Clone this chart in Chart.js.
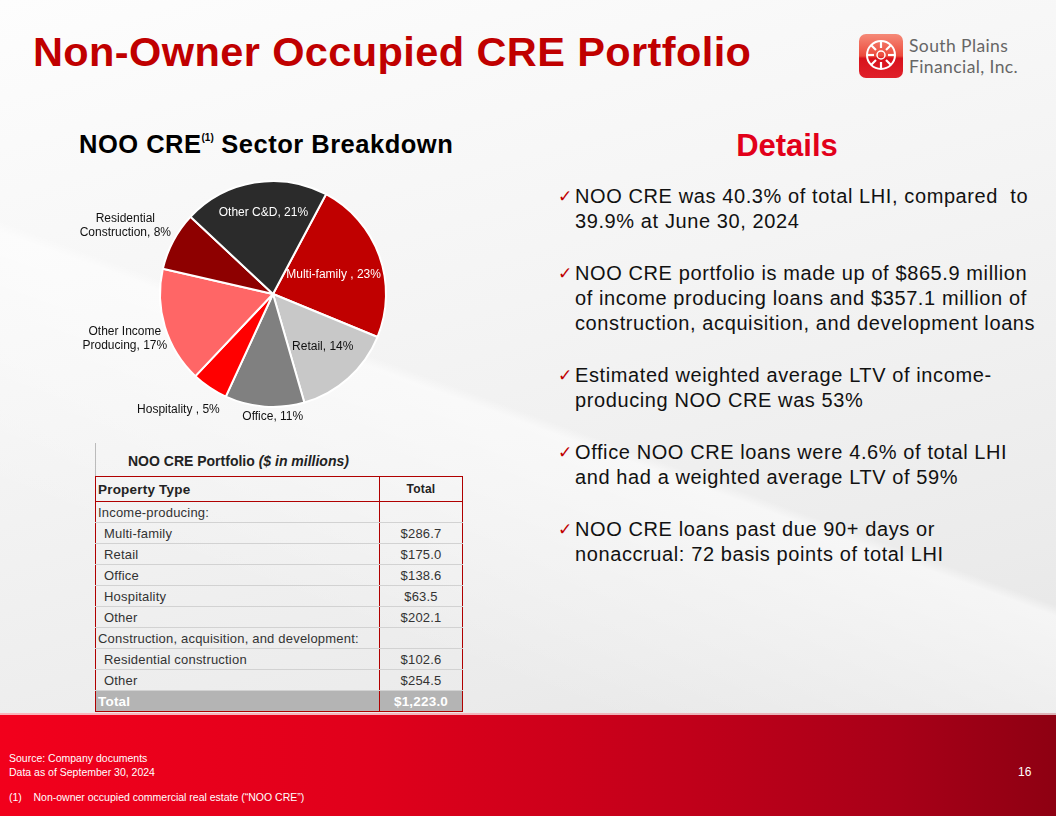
<!DOCTYPE html>
<html lang="en">
<head>
    <meta charset="UTF-8">
    <title>Non-Owner Occupied CRE Portfolio</title>
    <style>
        html, body { margin: 0; padding: 0; }
        body { width: 1056px; height: 816px; position: relative; overflow: hidden;
               font-family: Arial, "Liberation Sans", sans-serif;
               background: linear-gradient(165deg, #fdfdfd 0%, #f4f4f4 40%, #ebebeb 75%, #e2e2e2 100%); }
        .shade { position: absolute; left: 0; top: 0; width: 1056px; height: 716px;
                 background: linear-gradient(200deg, rgba(255,255,255,0.0) 55%, rgba(255,255,255,0.55) 56%, rgba(255,255,255,0) 80%); }
        h1 { position: absolute; left: 33px; top: 28px; margin: 0; font-size: 41.5px; font-weight: bold; color: #C00000; letter-spacing: 0.4px; }
        .subtitle { position: absolute; left: 79px; top: 130px; font-size: 25.5px; font-weight: bold; color: #000; letter-spacing: 0.5px; }
        .subtitle sup { font-size: 10px; position: relative; top: -3px; letter-spacing: 0; }
        .details-title { position: absolute; left: 687px; width: 200px; top: 128px; text-align: center;
                         font-size: 31px; font-weight: bold; color: #E2001A; }
        .details { position: absolute; left: 575px; top: 184px; margin: 0; padding: 0; list-style: none; }
        .details li { position: relative; font-size: 20px; letter-spacing: 0.6px; line-height: 25px; color: #111; margin-bottom: 27px; white-space: nowrap; }
        .details li::before { content: "\2713"; position: absolute; left: -17px; top: 0px; font-family: "DejaVu Sans"; font-size: 17px; color: #C00000; letter-spacing: 0; }
        #pieBox { position: absolute; left: 60px; top: 170px; width: 370px; height: 260px; }
        .tbl-title { position: absolute; left: 128px; top: 453px; font-size: 14px; font-weight: bold; color: #222; }
        .tbl-line { position: absolute; left: 95px; top: 443px; width: 1px; height: 33px; background: #bbb; }
        table { position: absolute; left: 95px; top: 476px; width: 368px; border-collapse: collapse; font-size: 13px; color: #333; letter-spacing: 0.2px; }
        td, th { height: 20px; padding: 0 2px; border-bottom: 1px solid #d2d2d2; }
        table { border: 1.5px solid #B00000; }
        th { height: 24px; border-bottom: 1.5px solid #B00000; text-align: left; font-size: 13.5px; color: #222; }
        th.val { text-align: center; font-size: 12px; }
        td.val, th.val { width: 78px; text-align: center; border-left: 1.5px solid #B00000; }
        td.ind { padding-left: 8px; }
        tr.total td { background: #B4B4B4; color: #fff; font-weight: bold; font-size: 13.5px; border-bottom: none; }
        .logo { position: absolute; left: 859px; top: 34px; }
        .logo-text { position: absolute; left: 909px; font-family: Lato, "Open Sans", sans-serif; font-size: 17.5px; letter-spacing: 0.4px; line-height: 21px; color: #666; white-space: nowrap; }
        .footer { position: absolute; left: 0; top: 713px; width: 1056px; height: 103px;
                  border-top: 2px solid rgba(255,255,255,0.7);
                  background: linear-gradient(90deg, #f2001c 0%, #e0001b 35%, #c1001a 65%, #a80018 85%, #8e0012 100%); }
        .foot { position: absolute; color: #fff; font-size: 10.5px; line-height: 14px; }
    </style>
</head>
<body>
    <div class="shade"></div>
    <h1>Non-Owner Occupied CRE Portfolio</h1>

    <!-- logo -->
    <svg class="logo" width="44" height="44" viewBox="0 0 44 44">
        <defs>
            <linearGradient id="lg" x1="0" y1="0" x2="0" y2="1">
                <stop offset="0" stop-color="#f58a78"/>
                <stop offset="0.5" stop-color="#ec4a3c"/>
                <stop offset="0.55" stop-color="#d8121c"/>
                <stop offset="1" stop-color="#e0202a"/>
            </linearGradient>
        </defs>
        <rect x="0" y="0" width="44" height="44" rx="7" fill="url(#lg)"/>
        <circle cx="22" cy="21" r="14" fill="none" stroke="#fff" stroke-width="2"/>
        <circle cx="22" cy="21" r="4" fill="none" stroke="#fff" stroke-width="1.5"/>
        <g stroke="#fff" stroke-width="2.2">
            <line x1="22" y1="7" x2="22" y2="14"/><line x1="22" y1="28" x2="22" y2="35"/>
            <line x1="8" y1="21" x2="15" y2="21"/><line x1="29" y1="21" x2="36" y2="21"/>
            <line x1="12" y1="11" x2="17" y2="16"/><line x1="27" y1="26" x2="32" y2="31"/>
            <line x1="32" y1="11" x2="27" y2="16"/><line x1="17" y1="26" x2="12" y2="31"/>
        </g>
    </svg>
    <div class="logo-text" style="top:35px;">South Plains</div>
    <div class="logo-text" style="top:56px;">Financial, Inc.</div>

    <div class="subtitle">NOO CRE<sup>(1)</sup> Sector Breakdown</div>
    <div id="pieBox"><canvas id="pieChart"></canvas></div>

    <div class="tbl-line"></div>
    <div class="tbl-title">NOO CRE Portfolio <i>($ in millions)</i></div>
    <table id="portfolioTable"></table>

    <div class="details-title">Details</div>
    <ul class="details">
        <li>NOO CRE was 40.3% of total LHI, compared&nbsp; to<br>39.9% at June 30, 2024</li>
        <li>NOO CRE portfolio is made up of $865.9 million<br>of income producing loans and $357.1 million of<br>construction, acquisition, and development loans</li>
        <li>Estimated weighted average LTV of income-<br>producing NOO CRE was 53%</li>
        <li>Office NOO CRE loans were 4.6% of total LHI<br>and had a weighted average LTV of 59%</li>
        <li>NOO CRE loans past due 90+ days or<br>nonaccrual: 72 basis points of total LHI</li>
    </ul>

    <div class="footer"></div>
    <div class="foot" style="left:9px; top:751px;">Source: Company documents<br>Data as of September 30, 2024</div>
    <div class="foot" style="left:9px; top:790px;">(1)&nbsp;&nbsp;&nbsp; Non-owner occupied commercial real estate (“NOO CRE”)</div>
    <div class="foot" style="left:1018px; top:765px; font-size:12px;">16</div>

    <script src="https://cdn.jsdelivr.net/npm/chart.js"></script>
    <script>
        // Adatok ($ millió)
        const sectorNames = ['Multi-family', 'Retail', 'Office', 'Hospitality', 'Other Income Producing', 'Residential Construction', 'Other C&D'];
        const sectorValues = [286.7, 175.0, 138.6, 63.5, 202.1, 102.6, 254.5];
        const sectorLabelLines = [['Multi-family '], ['Retail'], ['Office'], ['Hospitality '], ['Other Income', 'Producing'], ['Residential', 'Construction'], ['Other C&D']];
        const sectorColors = ['#C00000', '#C8C8C8', '#808080', '#FF0000', '#FF6666', '#8E0000', '#2B2B2B'];

        // Táblázat sorai
        const groupNames = ['Income-producing:', 'Construction, acquisition, and development:'];
        const incomeRows = ['Multi-family', 'Retail', 'Office', 'Hospitality', 'Other'];
        const incomeValues = [286.7, 175.0, 138.6, 63.5, 202.1];
        const cadRows = ['Residential construction', 'Other'];
        const cadValues = [102.6, 254.5];

        const total = sectorValues.reduce((a, b) => a + b, 0);

        // címkék elhelyezése (sugár-arány + eltolás)
        const labelPlace = [
            { f: 0.57, dx: 0, dy: 3, color: '#fff' },
            { f: 0.66, dx: 0, dy: -3, color: '#111' },
            { f: 1.09, dx: 9, dy: 0, color: '#111' },
            { f: 1.10, dx: -25, dy: 13, color: '#111' },
            { f: 1.37, dx: 0, dy: 0, color: '#111' },
            { f: 1.48, dx: 0, dy: 10, color: '#111' },
            { f: 0.73, dx: 4, dy: 0, color: '#fff' }
        ];

        const sliceLabels = {
            id: 'sliceLabels',
            afterDatasetsDraw(chart) {
                const ctx = chart.ctx;
                const meta = chart.getDatasetMeta(0);
                ctx.save();
                ctx.font = '12px Arial, "Liberation Sans", sans-serif';
                ctx.textAlign = 'center';
                ctx.textBaseline = 'middle';
                meta.data.forEach((arc, i) => {
                    const p = labelPlace[i];
                    const mid = (arc.startAngle + arc.endAngle) / 2;
                    const r = arc.outerRadius * p.f;
                    const x = arc.x + Math.cos(mid) * r + p.dx;
                    const y = arc.y + Math.sin(mid) * r + p.dy;
                    const pct = Math.round(sectorValues[i] / total * 100);
                    const lines = sectorLabelLines[i].slice();
                    lines[lines.length - 1] += ', ' + pct + '%';
                    ctx.fillStyle = p.color;
                    const lh = 14;
                    lines.forEach((t, k) => {
                        ctx.fillText(t, x, y + (k - (lines.length - 1) / 2) * lh);
                    });
                });
                ctx.restore();
            }
        };

        new Chart(document.getElementById('pieChart'), {
            type: 'pie',
            data: {
                labels: sectorNames,
                datasets: [{
                    data: sectorValues,
                    backgroundColor: sectorColors,
                    borderColor: '#ffffff',
                    borderWidth: 2
                }]
            },
            options: {
                responsive: true,
                maintainAspectRatio: false,
                animation: false,
                rotation: 28,
                layout: { padding: { left: 99, right: 43, top: 10, bottom: 22 } },
                plugins: { legend: { display: false }, tooltip: { enabled: false } },
                events: []
            },
            plugins: [sliceLabels]
        });

        // táblázat felépítése
        const fmt = v => '$' + v.toLocaleString('en-US', { minimumFractionDigits: 1, maximumFractionDigits: 1 });
        let html = '<tr><th>Property Type</th><th class="val">Total</th></tr>';
        html += '<tr><td>' + groupNames[0] + '</td><td class="val"></td></tr>';
        incomeRows.forEach((n, i) => { html += '<tr><td class="ind">' + n + '</td><td class="val">' + fmt(incomeValues[i]) + '</td></tr>'; });
        html += '<tr><td>' + groupNames[1] + '</td><td class="val"></td></tr>';
        cadRows.forEach((n, i) => { html += '<tr><td class="ind">' + n + '</td><td class="val">' + fmt(cadValues[i]) + '</td></tr>'; });
        const sum = incomeValues.concat(cadValues).reduce((a, b) => a + b, 0);
        html += '<tr class="total"><td>Total</td><td class="val">' + fmt(sum) + '</td></tr>';
        document.getElementById('portfolioTable').innerHTML = html;
    </script>
</body>
</html>
